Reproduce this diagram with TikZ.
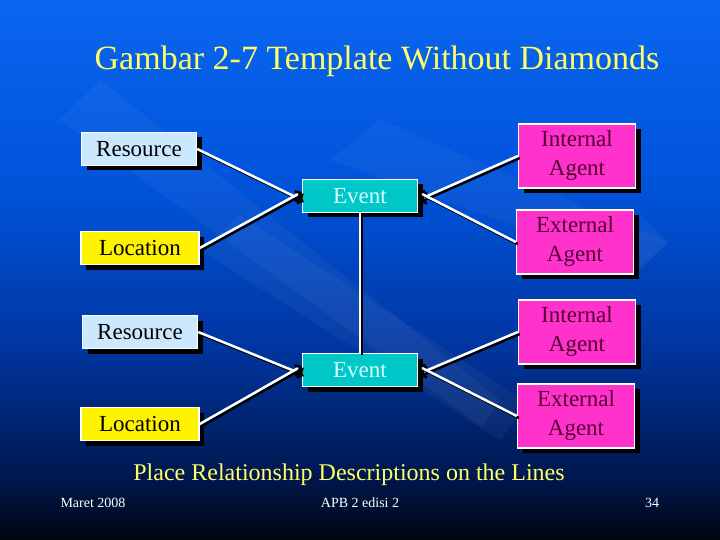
\documentclass[tikz,border=0pt]{standalone}
\usepackage{fontspec}
\setmainfont{Liberation Serif}
\usetikzlibrary{arrows.meta,shadows}
\definecolor{bgtop}{HTML}{0A66F0}
\definecolor{bglight}{HTML}{0052D8}
\definecolor{bgmid}{HTML}{0036A0}
\definecolor{bgdark}{HTML}{001850}
\definecolor{bgbot}{HTML}{000510}
\definecolor{titleyel}{HTML}{FFFF66}
\definecolor{resfill}{HTML}{CCE8FF}
\definecolor{evfill}{HTML}{00C8C8}
\definecolor{evtext}{HTML}{D8FFFF}
\definecolor{agtfill}{HTML}{FF33CC}
\definecolor{agttext}{HTML}{550033}
\pgfdeclareverticalshading{slidebg}{100bp}{color(0bp)=(bgbot); color(25bp)=(bgbot);
  color(31bp)=(bgdark); color(43bp)=(bgmid); color(57bp)=(bglight); color(75bp)=(bgtop); color(100bp)=(bgtop)}

\begin{document}
\begin{tikzpicture}[x=1pt,y=-1pt,
  box/.style={draw=white,line width=1.5pt,minimum width=115pt,minimum height=33pt,inner sep=2pt,
    font=\fontsize{23}{29}\selectfont,align=center,
    general shadow={fill=black,shadow xshift=5pt,shadow yshift=-5pt}},
  res/.style={box,fill=resfill,text=black},
  loc/.style={box,fill=yellow,text=black,minimum width=118pt},
  ev/.style={box,fill=evfill,text=evtext},
  agt/.style={box,fill=agtfill,text=agttext,minimum width=117pt,minimum height=64pt},
  link/.style={white,line width=2.5pt,
    preaction={draw=black,line width=2.5pt,transform canvas={xshift=2pt,yshift=-2pt}}},
  tip/.style={-{Straight Barb[black,length=4pt,width=8pt]}},
  band/.style={white,opacity=0.04}]
\useasboundingbox (0,0) rectangle (720,540);
\shade[shading=slidebg] (0,0) rectangle (720,540);
% background stripes
\fill[band] (60,120) -- (100,80) -- (500,400) -- (482,427) -- cycle;
\fill[band] (200,250) -- (240,215) -- (528,403) -- (500,440) -- cycle;
\fill[band] (330,160) -- (380,120) -- (668,242) -- (640,270) -- cycle;
\fill[band] (640,215) -- (668,242) -- (640,268) -- (612,242) -- cycle;

% title
\node[text=titleyel,font=\fontsize{34}{40}\selectfont] (title) at (377,61) {Gambar 2-7 Template Without Diamonds};

% left column
\node[res] (res1) at (139,149) {Resource};
\node[loc] (loc1) at (140,248) {Location};
\node[res] (res2) at (140,332) {Resource};
\node[loc] (loc2) at (140,424) {Location};

% events
\node[ev] (ev1) at (360,196) {Event};
\node[ev] (ev2) at (360,370) {Event};

% right column
\node[agt] (int1) at (577,156) {Internal\\Agent};
\node[agt] (ext1) at (575,242) {External\\Agent};
\node[agt] (int2) at (577,332) {Internal\\Agent};
\node[agt] (ext2) at (576,416) {External\\Agent};

% connectors
\draw[link,tip] (res1.east) -- ([shift={(0,4)}]ev1.west);
\draw[link,tip] (loc1.east) -- ([shift={(0,-4)}]ev1.west);
\draw[link,tip] (int1.west) -- ([shift={(0,4)}]ev1.east);
\draw[link,tip] (ext1.west) -- ([shift={(0,-4)}]ev1.east);
\draw[link,tip] (res2.east) -- ([shift={(0,4)}]ev2.west);
\draw[link,tip] (loc2.east) -- ([shift={(0,-4)}]ev2.west);
\draw[link,tip] (int2.west) -- ([shift={(0,4)}]ev2.east);
\draw[link,tip] (ext2.west) -- ([shift={(0,-4)}]ev2.east);
\draw[link] (ev1.south) -- (ev2.north);

% bottom notes
\node[text=titleyel,font=\fontsize{24}{28}\selectfont] (note) at (349,475) {Place Relationship Descriptions on the Lines};
\node[text=white,font=\fontsize{14}{16}\selectfont] (date) at (93,503) {Maret 2008};
\node[text=white,font=\fontsize{14}{16}\selectfont] (course) at (360,503) {APB 2 edisi 2};
\node[text=white,font=\fontsize{14}{16}\selectfont] (page) at (652,503) {34};
\end{tikzpicture}
\end{document}
